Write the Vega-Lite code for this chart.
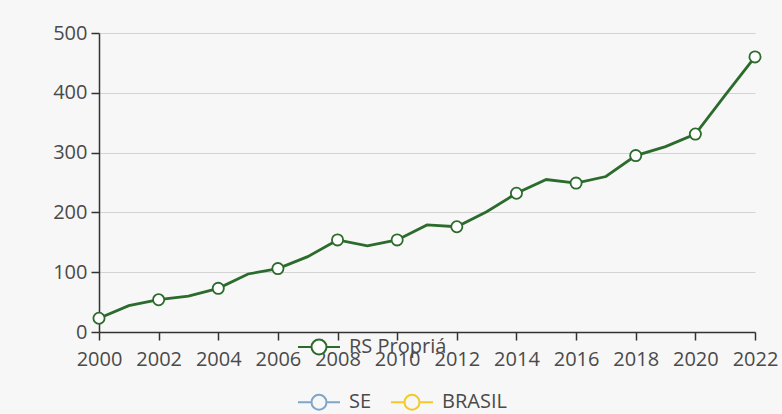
{
  "$schema": "https://vega.github.io/schema/vega-lite/v6.json",
  "width": 656,
  "height": 299,
  "autosize": {"type": "none"},
  "padding": {"left": 99, "top": 33, "right": 27, "bottom": 82},
  "background": "#f7f7f7",
  "config": {
    "view": {"stroke": null},
    "font": "Open Sans",
    "axis": {"labelFont": "Open Sans", "labelFontSize": 20, "labelColor": "#4a4a4a", "domainColor": "#333333", "tickColor": "#333333", "domainWidth": 1.5, "tickWidth": 1.5, "tickSize": 8, "title": null},
    "legend": {"labelFont": "Open Sans", "labelFontSize": 20, "labelColor": "#4a4a4a", "padding": 0}
  },
  "data": {"values": [
    {"year": 2000, "value": 23, "series": "RS Propriá"},
    {"year": 2001, "value": 44, "series": "RS Propriá"},
    {"year": 2002, "value": 54, "series": "RS Propriá"},
    {"year": 2003, "value": 60, "series": "RS Propriá"},
    {"year": 2004, "value": 73, "series": "RS Propriá"},
    {"year": 2005, "value": 97, "series": "RS Propriá"},
    {"year": 2006, "value": 106, "series": "RS Propriá"},
    {"year": 2007, "value": 126, "series": "RS Propriá"},
    {"year": 2008, "value": 154, "series": "RS Propriá"},
    {"year": 2009, "value": 144, "series": "RS Propriá"},
    {"year": 2010, "value": 154, "series": "RS Propriá"},
    {"year": 2011, "value": 179, "series": "RS Propriá"},
    {"year": 2012, "value": 176, "series": "RS Propriá"},
    {"year": 2013, "value": 201, "series": "RS Propriá"},
    {"year": 2014, "value": 232, "series": "RS Propriá"},
    {"year": 2015, "value": 255, "series": "RS Propriá"},
    {"year": 2016, "value": 249, "series": "RS Propriá"},
    {"year": 2017, "value": 260, "series": "RS Propriá"},
    {"year": 2018, "value": 295, "series": "RS Propriá"},
    {"year": 2019, "value": 310, "series": "RS Propriá"},
    {"year": 2020, "value": 331, "series": "RS Propriá"},
    {"year": 2021, "value": 396, "series": "RS Propriá"},
    {"year": 2022, "value": 460, "series": "RS Propriá"}
  ]},
  "layer": [
    {
      "encoding": {
        "x": {"field": "year", "type": "quantitative", "scale": {"domain": [2000, 2022], "nice": false, "zero": false},
              "axis": {"values": [2000, 2002, 2004, 2006, 2008, 2010, 2012, 2014, 2016, 2018, 2020, 2022], "format": "d", "grid": false, "labelPadding": 9, "labelFlush": false}},
        "y": {"field": "value", "type": "quantitative", "scale": {"domain": [0, 500], "nice": false},
              "axis": {"values": [0, 100, 200, 300, 400, 500], "grid": true, "gridColor": "#d3d3d3", "gridWidth": 1.2, "labelPadding": 4}},
        "color": {"field": "series", "type": "nominal",
                  "scale": {"domain": ["RS Propriá"], "range": ["#2b6b2b"]},
                  "legend": {"orient": "none", "legendX": 198, "legendY": 292, "title": null,
                             "symbolType": "M-1,0L-0.357,0M0.357,0L1,0M0.357,0A0.357,0.357,0,1,1,-0.357,0A0.357,0.357,0,1,1,0.357,0Z",
                             "symbolSize": 1764, "symbolStrokeWidth": 2, "labelOffset": 8,
                             "encode": {"symbols": {"update": {"fill": {"value": "#ffffff"}, "fillOpacity": {"value": 1}, "stroke": {"value": "#5f915f"}, "opacity": {"value": 1}}}}}}
      },
      "layer": [
        {"mark": {"type": "line", "strokeWidth": 2.8}},
        {"transform": [{"filter": "datum.year % 2 == 0"}],
         "mark": {"type": "point", "filled": false, "fill": "#ffffff", "fillOpacity": 1, "size": 125, "strokeWidth": 1.8, "opacity": 1}}
      ]
    },
    {
      "transform": [{"filter": "datum.series != 'RS Propriá'"}],
      "mark": {"type": "point"},
      "encoding": {
        "x": {"field": "year", "type": "quantitative"},
        "y": {"field": "value", "type": "quantitative"},
        "color": {"field": "series", "type": "nominal",
                  "scale": {"domain": ["SE", "BRASIL"], "range": ["#7ea6c9", "#f5c92a"]},
                  "legend": {"orient": "none", "legendX": 198, "legendY": 347, "title": null, "direction": "horizontal", "columnPadding": 15,
                             "symbolType": "M-1,0L-0.357,0M0.357,0L1,0M0.357,0A0.357,0.357,0,1,1,-0.357,0A0.357,0.357,0,1,1,0.357,0Z",
                             "symbolSize": 1764, "symbolFillColor": "#ffffff", "symbolStrokeWidth": 2, "symbolOpacity": 1, "labelOffset": 8}}
      }
    }
  ],
  "resolve": {"scale": {"color": "independent"}}
}
